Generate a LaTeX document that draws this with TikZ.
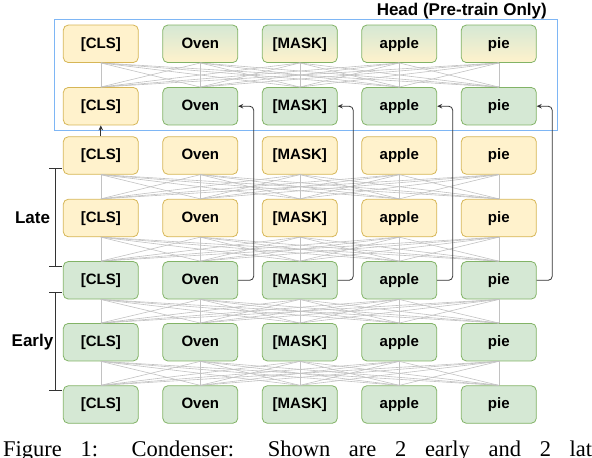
\documentclass[tikz,border=0pt]{standalone}
\usepackage{fontspec}
\setmainfont{Liberation Serif}
\newfontfamily\arialfont{Liberation Sans}
\usetikzlibrary{arrows.meta}
\usepackage{xcolor}
\definecolor{tokgreen}{HTML}{D5E8D4}
\definecolor{tokgreenline}{HTML}{82B366}
\definecolor{tokyellow}{HTML}{FFF2CC}
\definecolor{tokyellowline}{HTML}{D6B656}
\definecolor{headblue}{HTML}{7EB6F5}
\definecolor{wiregray}{HTML}{C2C2C2}
\definecolor{ink}{HTML}{333333}

\begin{document}
\begin{tikzpicture}[x=1pt,y=-1pt,
  tok/.style={rounded corners=5pt,minimum width=75pt,minimum height=37.5pt,inner sep=0pt,text height=10.8pt,text depth=2.2pt,line width=0.8pt,font=\arialfont\bfseries\fontsize{15}{17}\selectfont},
  ytok/.style={tok,draw=tokyellowline,fill=tokyellow},
  gtok/.style={tok,draw=tokgreenline,fill=tokgreen},
  htok/.style={tok,draw=tokgreenline,top color=tokgreen,bottom color=tokyellow},
  wire/.style={draw=wiregray,line width=0.6pt},
  back/.style={-{Stealth[length=5pt,width=4.5pt]},draw=ink,line width=0.8pt,rounded corners=4pt},
  brace/.style={draw=ink,line width=0.8pt},
  side/.style={font=\arialfont\bfseries\fontsize{17}{19}\selectfont,inner sep=0pt}
]
\useasboundingbox (0,0) rectangle (592,458);
% head (pre-train only)
\node[ytok] (n1-1) at (100.8,43.8) {[CLS]};
\node[ytok] (n2-1) at (100.8,106.2) {[CLS]};
\foreach \t [count=\c from 2] in {Oven,{[MASK]},apple,pie}{
  \node[htok] (n1-\c) at ({100.8+99.5*(\c-1)},43.8) {\t};
  \node[gtok] (n2-\c) at ({100.8+99.5*(\c-1)},106.2) {\t};
}
\draw[headblue,line width=0.9pt] (54.3,19) rectangle (557.5,130.7);
\node[side,anchor=base east] (headtitle) at (547,15) {Head (Pre-train Only)};
% late and early layers
\foreach \r/\y/\s in {3/155.5/ytok,4/218/ytok,5/280.3/gtok,6/342.2/gtok,7/404.5/gtok}
  \foreach \t [count=\c] in {{[CLS]},Oven,{[MASK]},apple,pie}
    \node[\s] (n\r-\c) at ({100.8+99.5*(\c-1)},\y) {\t};
% attention wires
\foreach \r/\s in {1/2,3/4,4/5,5/6,6/7}
  \foreach \a in {1,...,5}
    \foreach \b in {1,...,5}
      \draw[wire] (n\r-\a.south) -- (n\s-\b.north);
% skip connections into the head
\draw[back] (n3-1.north) -- (n2-1.south);
\foreach \c in {2,...,5}
  \draw[back] (n5-\c.east) -- ++(15.5,0) |- (n2-\c.east);
% layer groups
\draw[brace] (49,168.3) -- (62,168.3) (55,168.3) -- (55,266.5) (49,266.5) -- (62,266.5);
\node[side] (late) at (32.5,218) {Late};
\draw[brace] (49,292.5) -- (62,292.5) (55,292.5) -- (55,390.7) (49,390.7) -- (62,390.7);
\node[side] (early) at (32.5,342.2) {Early};
% caption
\node[anchor=base west,inner sep=0pt,font=\fontsize{22.5}{24}\selectfont] (caption) at (3,456.5) {\makebox[589pt][s]{Figure 1: Condenser: Shown are 2 early and 2 lat}};
\end{tikzpicture}
\end{document}
